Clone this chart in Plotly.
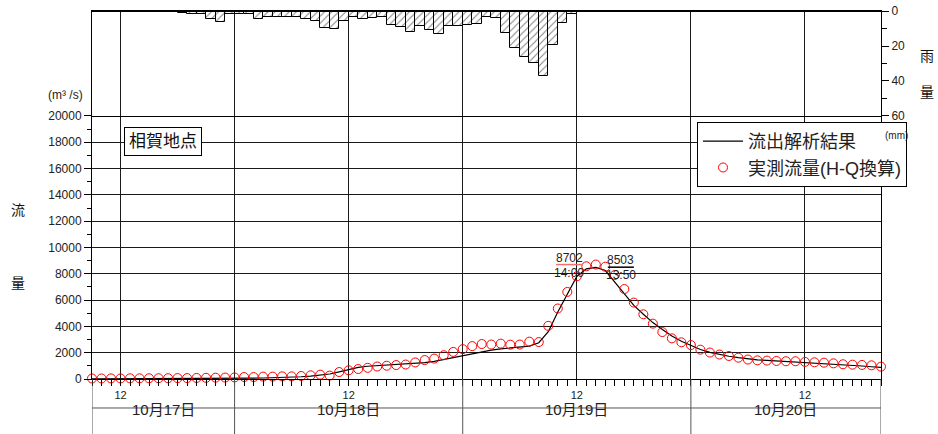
import pandas as pd
import plotly.graph_objects as go

# ---- data -------------------------------------------------------------
start = pd.Timestamp("2004-10-17 09:00")
n_hours = 84  # hourly records 10/17 09:00 .. 10/20 20:00

# observed discharge (H-Q conversion), m3/s, hourly
observed_flow = [
    40, 40, 45, 45, 50, 50, 55, 60, 60, 70, 70, 80, 90, 100, 110, 120,
    150, 150, 180, 180, 200, 200, 230, 280, 330, 260, 530, 660, 760, 850,
    950, 1010, 1060, 1100, 1260, 1440, 1550, 1810, 2060, 2270, 2500, 2660,
    2620, 2690, 2610, 2620, 2840, 2810, 4040, 5360, 6620, 7810, 8570, 8702,
    8540, 7910, 6840, 5810, 4920, 4210, 3570, 3090, 2790, 2580, 2230, 2010,
    1860, 1750, 1620, 1480, 1420, 1400, 1370, 1350, 1350, 1300, 1270, 1240,
    1190, 1120, 1090, 1070, 1040, 940,
]

# runoff analysis result, m3/s, hourly
computed_flow = [
    10, 10, 10, 15, 15, 20, 20, 25, 25, 30, 30, 35, 40, 45, 50, 55,
    60, 65, 75, 85, 100, 130, 170, 220, 290, 380, 540, 730, 880, 970,
    1020, 1060, 1090, 1120, 1170, 1240, 1340, 1480, 1640, 1800, 1950, 2080,
    2200, 2290, 2360, 2420, 2500, 2760, 3600, 5100, 6500, 7800, 8380, 8480,
    8250, 7380, 6420, 5600, 4920, 4290, 3760, 3270, 2870, 2540, 2240, 2030,
    1860, 1730, 1620, 1530, 1460, 1410, 1370, 1330, 1300, 1270, 1230, 1190,
    1140, 1090, 1040, 990, 930, 880,
]

observed_peak_time = "2004-10-19 14:00"
observed_peak_flow = 8702
computed_peak_time = "2004-10-19 13:50"
computed_peak_flow = 8503

# hourly rainfall (mm), one value per hour ending 10/17 10:00 .. 10/20 20:00
rain_mm = [
    0, 0, 0, 0, 0, 0.3, 0.3, 0.8, 0.8, 1.0, 1.8, 1.8, 4.8, 6.5, 1.5, 1.5,
    1.5, 4.6, 3.6, 3.6, 3.6, 3.6, 4.8, 5.5, 9.7, 10.5, 5.7, 3.2, 4.8, 3.8,
    3.5, 7.8, 9.4, 12.0, 8.5, 10.9, 13.3, 8.7, 8.7, 7.8, 7.2, 3.7, 4.0,
    12.8, 21.3, 26.3, 29.6, 37.0, 19.2, 7.0, 1.8, 0.4, 0.3, 0.2, 0.7,
    0, 0, 0, 0, 0, 0, 0, 0, 0, 0, 0, 0, 0, 0, 0, 0, 0, 0, 0, 0, 0, 0, 0,
    0, 0, 0, 0, 0,
]

day_labels = ["10月17日", "10月18日", "10月19日", "10月20日"]
station_name = "相賀地点"

# ---- derived series ----------------------------------------------------
hours = pd.date_range(start, periods=n_hours, freq="h")
end = hours[-1]

comp = pd.DataFrame({"t": hours, "q": computed_flow})
comp = pd.concat([comp, pd.DataFrame({"t": [pd.Timestamp(computed_peak_time)],
                                      "q": [computed_peak_flow]})])
comp = comp.sort_values("t")

rain_end = pd.date_range(start + pd.Timedelta(hours=1), periods=len(rain_mm), freq="h")
rain_mid = rain_end - pd.Timedelta(minutes=30)

grid_ticks = pd.date_range("2004-10-17 12:00", end, freq="12h")
grid_text = ["12" if t.hour == 12 else "" for t in grid_ticks]
day_bounds = [start] + list(pd.date_range("2004-10-18", end, freq="D")) + [end]

FONT = "Liberation Sans, Arial, Noto Sans CJK JP, sans-serif"
GRID = "#1a1a1a"

fig = go.Figure()

fig.add_trace(go.Bar(
    x=rain_mid, y=rain_mm, width=3600000, xaxis="x2", yaxis="y2",
    marker=dict(color="white", line=dict(color="black", width=1),
                pattern=dict(shape="/", fgcolor="black", bgcolor="white",
                             size=5, solidity=0.2)),
    showlegend=False, hoverinfo="x+y",
))

fig.add_trace(go.Scatter(
    x=comp["t"], y=comp["q"], mode="lines", name="流出解析結果",
    line=dict(color="black", width=1.2),
))

fig.add_trace(go.Scatter(
    x=hours, y=observed_flow, mode="markers", name="実測流量(H-Q換算)",
    marker=dict(symbol="circle-open", size=9, color="red",
                line=dict(color="red", width=1)),
    cliponaxis=False,
))

flow_top = 0.7147

fig.update_layout(
    width=938, height=434,
    margin=dict(l=92, r=57, t=11, b=55, autoexpand=False),
    paper_bgcolor="white", plot_bgcolor="white",
    font=dict(family=FONT, size=12, color="#222"),
    bargap=0,
    xaxis=dict(
        domain=[0, 1], anchor="y", type="date",
        range=[start, end],
        tickmode="array", tickvals=grid_ticks, ticktext=grid_text,
        ticks="outside", ticklen=6, tickcolor="black",
        tickfont=dict(size=11),
        showgrid=True, gridcolor=GRID, gridwidth=1,
        showline=True, linecolor="black", linewidth=1,
        minor=dict(tick0=start, dtick=3600000, ticks="outside",
                   ticklen=6, tickcolor="black", showgrid=False),
        zeroline=False, automargin=False,
    ),
    yaxis=dict(
        domain=[0, flow_top], anchor="x",
        range=[0, 20000], dtick=2000, tickformat="d",
        ticks="outside", ticklen=7, tickcolor="black",
        tickfont=dict(size=12),
        showgrid=True, gridcolor=GRID, gridwidth=1,
        showline=True, linecolor="black", mirror=True,
        minor=dict(dtick=1000, ticks="outside", ticklen=4,
                   tickcolor="black", showgrid=False),
        zeroline=False, automargin=False,
    ),
    xaxis2=dict(
        domain=[0, 1], anchor="y2", matches="x", type="date",
        tickmode="array", tickvals=grid_ticks,
        showticklabels=False, ticks="",
        showgrid=True, gridcolor=GRID, gridwidth=1,
        showline=True, linecolor="black", linewidth=1, mirror=True,
        zeroline=False, automargin=False,
    ),
    yaxis2=dict(
        domain=[flow_top, 1], anchor="x2", side="right",
        range=[60, 0], tickvals=[0, 20, 40, 60],
        ticks="outside", ticklen=7, tickcolor="black",
        tickfont=dict(size=12),
        showgrid=False,
        showline=True, linecolor="black", mirror=True,
        minor=dict(dtick=10, ticks="outside", ticklen=5,
                   tickcolor="black"),
        zeroline=False, automargin=False,
    ),
    legend=dict(
        x=0.7668, y=0.7147 - 0.016, xanchor="left", yanchor="top",
        bordercolor="black", borderwidth=1, bgcolor="white",
        font=dict(size=18, family=FONT), traceorder="normal",
        tracegroupgap=0, itemwidth=40,
    ),
)

# top border of the rainfall panel
shapes = [dict(type="line", xref="x", yref="paper", x0=start, x1=end,
               y0=1, y1=1, line=dict(color="black", width=2))]

# date band below the flow axis
shapes.append(dict(type="line", xref="x", yref="paper", x0=start, x1=end,
                   y0=-0.0788, y1=-0.0788, line=dict(color="#555", width=1)))
for b in day_bounds:
    shapes.append(dict(type="line", xref="x", yref="paper", x0=b, x1=b,
                       y0=0, y1=-0.1495, line=dict(color="#555", width=1)))

annotations = []
for i, lab in enumerate(day_labels):
    mid = day_bounds[i] + (day_bounds[i + 1] - day_bounds[i]) / 2
    annotations.append(dict(x=mid, y=-0.111, xref="x", yref="paper",
                            text=lab, showarrow=False,
                            font=dict(size=15, color="#222")))

# peak labels
off = pd.Timedelta(hours=2.8)
half = pd.Timedelta(hours=1.37)
peaks = [
    (pd.Timestamp(observed_peak_time), observed_peak_flow, -off, "#f07070"),
    (pd.Timestamp(computed_peak_time), computed_peak_flow, off, "black"),
]
for t, q, d, col in peaks:
    cx = t + d
    shapes.append(dict(type="line", xref="x", yref="y", x0=cx - half,
                       x1=cx + half, y0=q, y1=q, line=dict(color=col, width=1.5)))
    annotations.append(dict(x=cx, y=q, xref="x", yref="y", text=f"{q}",
                            showarrow=False, yanchor="bottom", yshift=-2,
                            font=dict(size=12, color="#222")))
    annotations.append(dict(x=cx, y=q, xref="x", yref="y",
                            text=t.strftime("%H:%M"), showarrow=False,
                            yanchor="top", yshift=1,
                            font=dict(size=12, color="#222")))

# station label
annotations.append(dict(x=0.09, y=0.6467, xref="paper", yref="paper",
                        xanchor="center", yanchor="middle",
                        text=station_name, showarrow=False,
                        bgcolor="white", bordercolor="black", borderwidth=1,
                        borderpad=4, font=dict(size=17, color="#111")))

# axis captions
annotations += [
    dict(x=-0.033, y=0.772, xref="paper", yref="paper", text="(m³ /s)",
         xanchor="center", yanchor="middle", showarrow=False,
         font=dict(size=12)),
    dict(x=-0.0938, y=0.459, xref="paper", yref="paper", text="流",
         xanchor="center", showarrow=False, font=dict(size=14, color="#111")),
    dict(x=-0.0938, y=0.234, xref="paper", yref="paper", text="量",
         xanchor="center", showarrow=False, font=dict(size=14, color="#111")),
    dict(x=1.0583, y=0.905, xref="paper", yref="paper", text="雨",
         xanchor="center", showarrow=False, font=dict(size=14, color="#111")),
    dict(x=1.0583, y=0.807, xref="paper", yref="paper", text="量",
         xanchor="center", showarrow=False, font=dict(size=14, color="#111")),
    dict(x=1.020, y=0.682, xref="paper", yref="paper", text="(mm)",
         xanchor="center", showarrow=False, font=dict(size=10)),
]

fig.update_layout(shapes=shapes, annotations=annotations)

fig.write_html("out.html")
